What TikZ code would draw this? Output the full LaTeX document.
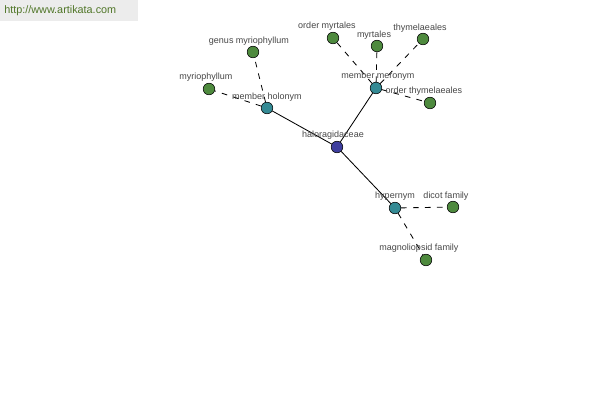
\documentclass[tikz,border=0pt]{standalone}
\usepackage{fontspec}
\setmainfont{Liberation Sans}
\definecolor{hubBlue}{RGB}{62,62,158}
\definecolor{relTeal}{RGB}{52,138,148}
\definecolor{leafGreen}{RGB}{78,138,62}
\definecolor{labelGray}{RGB}{70,70,70}
\definecolor{bannerGray}{RGB}{236,236,236}
\definecolor{bannerGreen}{RGB}{80,118,40}

\begin{document}
\begin{tikzpicture}[
    x=0.025cm,
    y=-0.025cm,
    dot/.style={
        circle,
        draw=black,
        line width=0.4pt,
        minimum size=0.29cm,
        inner sep=0pt
    },
    hub/.style={dot, fill=hubBlue},
    relation/.style={dot, fill=relTeal},
    leaf/.style={dot, fill=leafGreen},
    word/.style={
        labelGray,
        font=\fontsize{6.4}{7}\selectfont,
        inner sep=0pt
    },
    link/.style={black, line width=0.6pt},
    weak link/.style={black, line width=0.6pt, dash pattern=on 4pt off 4.5pt}
]

\useasboundingbox (0,0) rectangle (600,400);

%------------------------------------------------
% Banner
%------------------------------------------------
\fill[bannerGray] (0,0) rectangle (138,21);
\node[bannerGreen, font=\fontsize{7.7}{8}\selectfont, anchor=west, inner sep=0pt]
    (banner) at (4,11) {http://www.artikata.com};

%------------------------------------------------
% Nodes
%------------------------------------------------
\node[hub] (halo) at (337,147) {};

\node[relation] (holonym) at (267,108) {};
\node[relation] (meronym) at (376,88) {};
\node[relation] (hypernym) at (395,208) {};

\node[leaf] (genus) at (253,52) {};
\node[leaf] (myrio) at (209,89) {};
\node[leaf] (ordmyrt) at (333,38) {};
\node[leaf] (myrt) at (377,46) {};
\node[leaf] (thym) at (423,39) {};
\node[leaf] (ordthym) at (430,103) {};
\node[leaf] (dicot) at (453,207) {};
\node[leaf] (magno) at (426,260) {};

%------------------------------------------------
% Connectors
%------------------------------------------------
\draw[link] (halo) -- (holonym);
\draw[link] (halo) -- (meronym);
\draw[link] (halo) -- (hypernym);

\draw[weak link] (holonym) -- (genus);
\draw[weak link] (holonym) -- (myrio);

\draw[weak link] (meronym) -- (ordmyrt);
\draw[weak link] (meronym) -- (myrt);
\draw[weak link] (meronym) -- (thym);
\draw[weak link] (meronym) -- (ordthym);

\draw[weak link] (hypernym) -- (dicot);
\draw[weak link] (hypernym) -- (magno);

%------------------------------------------------
% Labels
%------------------------------------------------
\node[word] (lhalo) at (333,135.5) {haloragidaceae};
\node[word] (lholonym) at (267,97.5) {member holonym};
\node[word] (lmeronym) at (378,76.5) {member meronym};
\node[word] (lhypernym) at (395,196.5) {hypernym};
\node[word] (lgenus) at (249,41.5) {genus myriophyllum};
\node[word] (lmyrio) at (206,77.5) {myriophyllum};
\node[word] (lordmyrt) at (327,26.5) {order myrtales};
\node[word] (lmyrt) at (374,35.5) {myrtales};
\node[word] (lthym) at (420,28.5) {thymelaeales};
\node[word] (lordthym) at (424,91.5) {order thymelaeales};
\node[word] (ldicot) at (446,196.5) {dicot family};
\node[word] (lmagno) at (419,248.5) {magnoliopsid family};

\end{tikzpicture}
\end{document}
